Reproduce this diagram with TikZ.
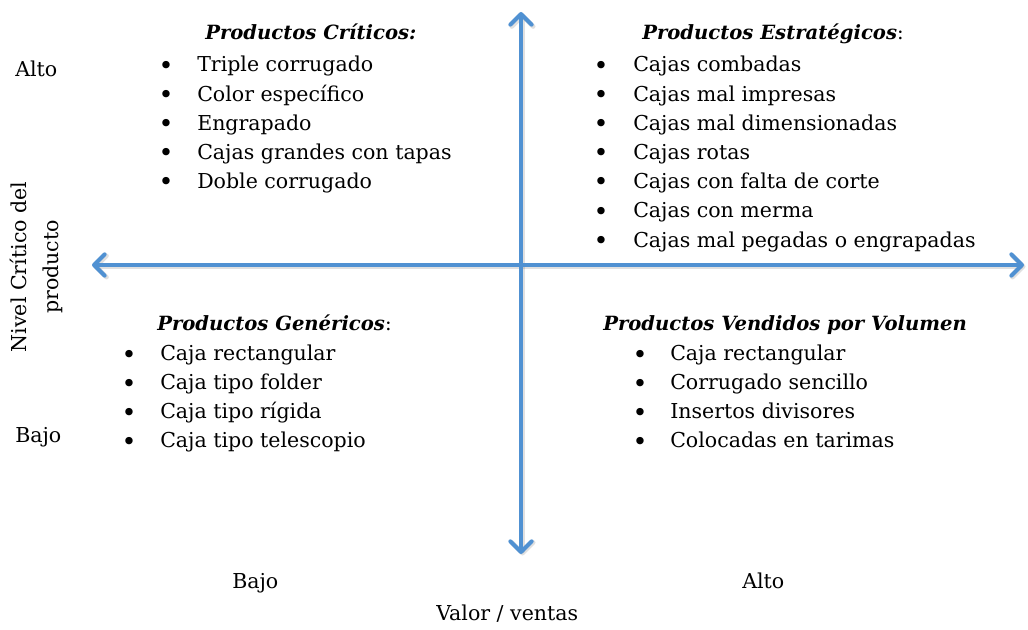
\documentclass[tikz,border=0pt]{standalone}
\usepackage{fontspec}
\setmainfont{DejaVu Serif}
\usetikzlibrary{arrows.meta}
\definecolor{axisblue}{RGB}{80,145,210}
\tikzset{
  axisline/.style={draw=axisblue, line width=3pt, line cap=round,
    {Straight Barb[length=8pt,width=16pt,round]}-{Straight Barb[length=8pt,width=16pt,round]}},
  axisshadow/.style={draw=black, opacity=0.12, line width=3.5pt, line cap=round,
    {Straight Barb[length=8pt,width=16pt,round]}-{Straight Barb[length=8pt,width=16pt,round]}},
  txt/.style={anchor=base west, inner sep=0pt, font=\fontsize{15.4}{18}\selectfont},
  ttl/.style={anchor=base west, inner sep=0pt, font=\fontsize{14.7}{18}\selectfont\bfseries\itshape},
  bul/.style={anchor=base, inner sep=0pt, yshift=-1.6pt, font=\fontsize{19}{18}\selectfont},
}
\begin{document}
\begin{tikzpicture}[x=0.75pt,y=-0.75pt]
\useasboundingbox (0,0) rectangle (1028,630);
% axes
\coordinate (top) at (521,12);
\coordinate (bot) at (521,554);
\coordinate (lft) at (92,265);
\coordinate (rgt) at (1024,265);
\coordinate (tops) at (522.5,13.5);
\coordinate (bots) at (522.5,555.5);
\coordinate (lfts) at (93.5,266.5);
\coordinate (rgts) at (1025.5,266.5);
\draw[axisshadow] (bots) -- (tops);
\draw[axisshadow] (lfts) -- (rgts);
\draw[axisline] (bot) -- (top);
\draw[axisline] (lft) -- (rgt);

% Q1
\node[ttl] (t1) at (205,40) {Productos Críticos:};
\foreach \i/\s in {0/Triple corrugado,1/Color específico,2/Engrapado,3/Cajas grandes con tapas,4/Doble corrugado}{
  \node[bul] (b1\i) at (166,72+29.2*\i) {•};
  \node[txt] (l1\i) at (197,72+29.2*\i) {\s};
}
% Q2
\node[ttl] (t2) at (642,40) {Productos Estratégicos\textup{\mdseries:}};
\foreach \i/\s in {0/Cajas combadas,1/Cajas mal impresas,2/Cajas mal dimensionadas,3/Cajas rotas,4/Cajas con falta de corte,5/Cajas con merma,6/Cajas mal pegadas o engrapadas}{
  \node[bul] (b2\i) at (601,72+29.2*\i) {•};
  \node[txt] (l2\i) at (633,72+29.2*\i) {\s};
}
% Q3
\node[ttl] (t3) at (157,331) {Productos Genéricos\textup{\mdseries:}};
\foreach \i/\s in {0/Caja rectangular,1/Caja tipo folder,2/Caja tipo rígida,3/Caja tipo telescopio}{
  \node[bul] (b3\i) at (129,361+29*\i) {•};
  \node[txt] (l3\i) at (160,361+29*\i) {\s};
}
% Q4
\node[ttl] (t4) at (603,331) {Productos Vendidos por Volumen};
\foreach \i/\s in {0/Caja rectangular,1/Corrugado sencillo,2/Insertos divisores,3/Colocadas en tarimas}{
  \node[bul] (b4\i) at (640,361+29*\i) {•};
  \node[txt] (l4\i) at (670,361+29*\i) {\s};
}
% axis labels
\node[txt] (altoy) at (15,77) {Alto};
\node[txt] (bajoy) at (15,443) {Bajo};
\node[rotate=90, align=center, inner sep=0pt, font=\fontsize{15.4}{24}\selectfont] (ylab) at (36,267) {Nivel Crítico del\\producto};
\node[txt] (bajox) at (232,588) {Bajo};
\node[txt] (altox) at (742,588) {Alto};
\node[txt] (xlab) at (436,620) {Valor / ventas};
\end{tikzpicture}
\end{document}
